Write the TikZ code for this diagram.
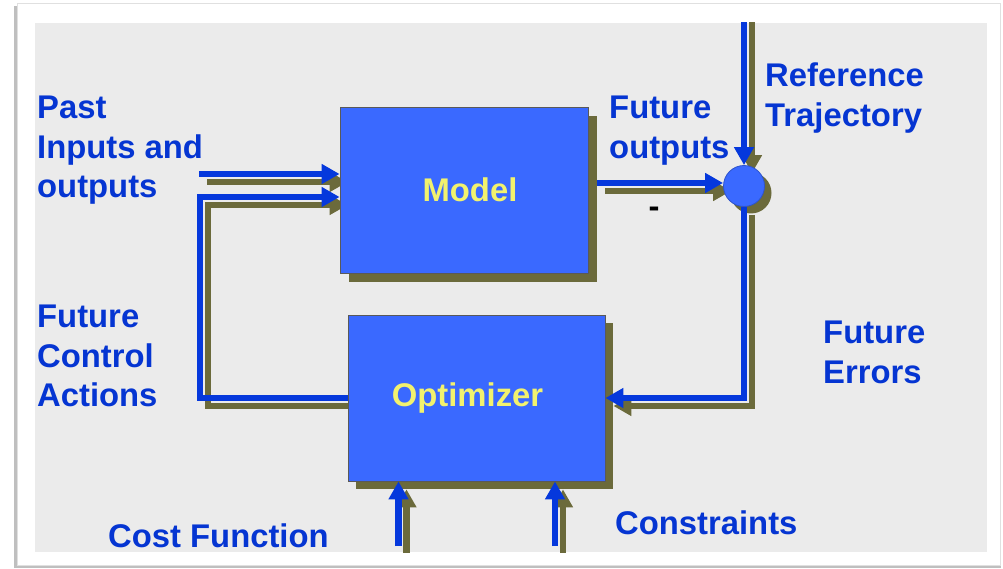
\documentclass[tikz,border=0pt]{standalone}
\usepackage{fontspec}
\setmainfont{Liberation Sans}
\usetikzlibrary{arrows.meta}
\definecolor{panelc}{HTML}{EBEBEB}
\definecolor{textblue}{HTML}{0535D2}
\definecolor{lineblue}{HTML}{0538DC}
\definecolor{boxblue}{HTML}{3A69FF}
\definecolor{olivec}{HTML}{6B6A3B}
\definecolor{yellowc}{HTML}{F2F26E}
\pgfdeclarelayer{bglayer}
\pgfdeclarelayer{shadowlayer}
\pgfdeclarelayer{connlayer}
\pgfsetlayers{bglayer,shadowlayer,connlayer,main}
\tikzset{
  lbl/.style={text=textblue, font=\bfseries\fontsize{32.8}{39.5}\selectfont, align=left, inner sep=0pt, anchor=north west},
  blockbox/.style={rectangle, fill=boxblue, draw=black!65, line width=0.8pt, inner sep=0pt,
     text=yellowc, font=\bfseries\fontsize{32.8}{38}\selectfont},
  conn/.style={draw=lineblue, line width=6.5pt, line join=miter},
  arr/.style={-{Triangle[length=18pt,width=19pt]}},
}
\newcommand\myconnectors{%
  \draw[conn,arr] (pin) -- (pin -| model.west);
  \draw[conn,arr] (opt.west) -- (fbc) |- (model.west |- fbtop);
  \draw[conn,arr] (mout) -- (mout -| sum.west);
  \draw[conn,arr] (rtop) -- (sum.north);
  \draw[conn,arr] (sum.south) |- (opt.east);
  \draw[conn,arr] (cf) -- (cf |- opt.south);
  \draw[conn,arr] (cs) -- (cs |- opt.south);
}
\begin{document}
\begin{tikzpicture}[x=1pt,y=-1pt]
\useasboundingbox (0,0) rectangle (1003,569);
% frame
\begin{pgfonlayer}{bglayer}
\fill[white] (0,0) rectangle (1003,569);
\fill[black!25] (14,6) rectangle (1001,568);
\fill[white, draw=black!12, line width=0.6pt] (17,3) rectangle (1000,565);
\fill[panelc] (35,23) rectangle (987,552);
\end{pgfonlayer}
% blocks
\node[blockbox, minimum width=248pt, minimum height=166pt] (model) at (464,190) {\hspace*{12pt}Model};
\node[blockbox, minimum width=257pt, minimum height=166pt] (opt) at (476.5,398) {Optimizer\hspace*{18pt}};
\node[circle, fill=boxblue, draw=boxblue!80!black, line width=0.8pt, minimum size=41pt, inner sep=0pt] (sum) at (744,186) {};
% coordinates
\coordinate (pin) at (199,174);
\coordinate (fbc) at (200,398);
\coordinate (fbtop) at (200,197);
\coordinate (mout) at (597,183);
\coordinate (rtop) at (744,10);
\coordinate (cf) at (398.5,546);
\coordinate (cs) at (555,546);
% shadows
\begin{pgfonlayer}{shadowlayer}
  \fill[olivec] ([shift={(9,9)}]model.south west) rectangle ([shift={(9,9)}]model.north east);
  \fill[olivec] ([shift={(8,8)}]opt.south west) rectangle ([shift={(8,8)}]opt.north east);
  \fill[olivec] ([shift={(7,7)}]sum.center) circle (20.5pt);
  \begin{scope}
    \clip (35,23) rectangle (987,552);
    \begin{scope}[transform canvas={shift={(8pt,-8pt)}}, conn/.style={draw=olivec, line width=6.5pt, line join=miter}]
      \myconnectors
    \end{scope}
  \end{scope}
\end{pgfonlayer}
\begin{pgfonlayer}{connlayer}
  \begin{scope}
    \clip (35,23) rectangle (987,552);
    \myconnectors
  \end{scope}
\end{pgfonlayer}
% labels
\node[lbl] (lpast) at (37,96) {Past\\Inputs and\\outputs};
\node[lbl] (lfca) at (37,305) {Future\\Control\\Actions};
\node[lbl] (lfo) at (609,96) {Future\\outputs};
\node[lbl] (lref) at (765,63) {Reference\\Trajectory};
\node[lbl] (lfe) at (823,321) {Future\\Errors};
\node[lbl] (lcost) at (108,524) {Cost Function};
\node[lbl] (lcons) at (615,510.5) {Constraints};
\node[text=black, font=\bfseries\fontsize{32.8}{38}\selectfont, inner sep=0pt] (minus) at (654,212) {-};
\end{tikzpicture}
\end{document}
